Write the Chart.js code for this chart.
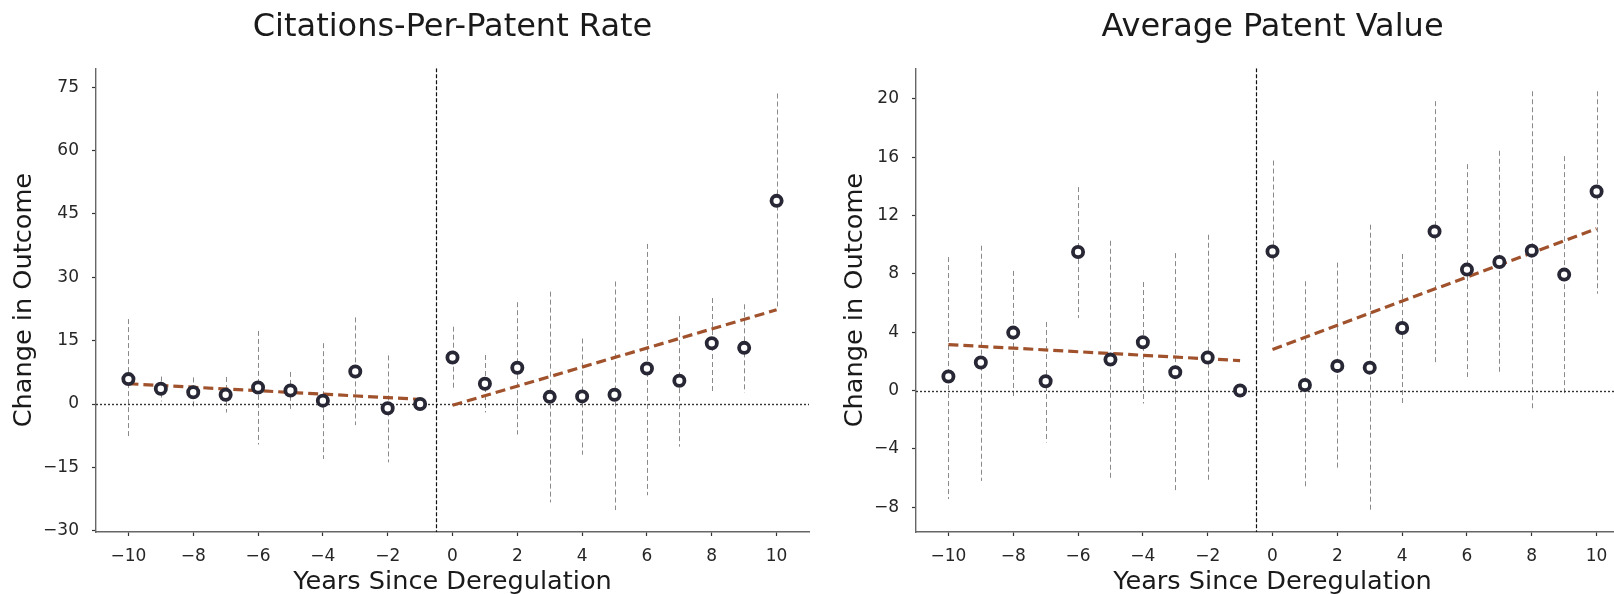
<!DOCTYPE html>
<html><head><meta charset="utf-8">
<script src="https://cdn.jsdelivr.net/npm/chart.js@4.4.1/dist/chart.umd.min.js"></script>
<style>
html,body{margin:0;padding:0;overflow:hidden;background:#fff;width:1614px;height:594px;}
#wrap{position:relative;width:1614px;height:594px;overflow:hidden;}
.panel{position:absolute;top:0;width:820px;height:594px;}
</style></head><body>
<div id="wrap">
<div class="panel" style="left:0"><canvas id="c1" width="820" height="594"></canvas></div>
<div class="panel" style="left:820px"><canvas id="c2" width="820" height="594"></canvas></div>
</div>
<script>
// ---- data ----
const years = [-10,-9,-8,-7,-6,-5,-4,-3,-2,-1,0,1,2,3,4,5,6,7,8,9,10];
const xTicks = [-10,-8,-6,-4,-2,0,2,4,6,8,10];

const citesTitle = 'Citations-Per-Patent Rate';
const citesCoef = [5.9,3.6,2.8,2.2,3.9,3.2,0.8,7.7,-1.0,0.0,11.0,4.8,8.6,1.7,1.8,2.2,8.4,5.5,14.4,13.3,48.1];
const citesLow  = [-8.3,0.6,-0.9,-2.0,-9.6,-1.3,-13.0,-5.0,-13.8,0.0,3.4,-2.0,-7.2,-23.3,-12.0,-25.1,-21.6,-10.1,2.9,2.7,22.7];
const citesHigh = [20.1,6.5,6.3,6.4,17.3,7.6,14.4,20.5,11.5,0.0,18.3,11.6,24.1,26.6,15.5,29.0,37.9,20.8,25.1,23.6,73.5];
const citesPreX = [-10,-1],  citesPreY = [4.8,1.1];
const citesPostX = [0,10],   citesPostY = [-0.3,22.3];
const citesYTicks = [-30,-15,0,15,30,45,60,75];
const citesYMin = -30.3, citesYMax = 79.5;

const valueTitle = 'Average Patent Value';
const valueCoef = [0.96,1.92,3.97,0.64,9.5,2.12,3.31,1.26,2.26,0.0,9.54,0.38,1.69,1.57,4.29,10.91,8.29,8.81,9.59,7.95,13.65];
const valueLow  = [-7.44,-6.2,-0.37,-3.56,4.97,-6.03,-0.89,-6.99,-6.2,0.0,3.26,-6.76,-5.46,-8.29,-1.0,1.94,0.93,1.12,-1.42,-0.25,6.64];
const valueHigh = [9.15,9.93,8.2,4.7,13.95,10.27,7.44,9.42,10.68,0.0,15.77,7.49,8.77,11.37,9.36,19.84,15.52,16.44,20.52,16.07,20.52];
const valuePreX = [-10,-1],  valuePreY = [3.15,2.05];
const valuePostX = [0,10],   valuePostY = [2.81,11.1];
const valueYTicks = [-8,-4,0,4,8,12,16,20];
const valueYMin = -9.7, valueYMax = 22.1;

const refY = 0;        // horizontal reference
const eventX = -0.5;   // deregulation marker
const xMin = -11, xMax = 11;
const xLabel = 'Years Since Deregulation';
const yLabel = 'Change in Outcome';

// ---- drawing ----
const FONT = "'DejaVu Sans', sans-serif";
const fmt = v => String(v).replace('-', '\u2212');

const refPlugin = {
  id: 'refs',
  beforeDatasetsDraw(chart, args, o) {
    const {ctx, chartArea: a, scales: {x, y}} = chart;
    ctx.save();
    ctx.beginPath(); ctx.rect(a.left, a.top, a.right - a.left, a.bottom - a.top); ctx.clip();
    // error bars
    ctx.lineWidth = 1; ctx.strokeStyle = '#8a8a8a'; ctx.setLineDash([5, 3]);
    o.years.forEach((yr, i) => {
      const lo = o.low[i], hi = o.high[i];
      if (lo === hi) return;
      const px = Math.round(x.getPixelForValue(yr)) + 0.5;
      ctx.beginPath();
      ctx.moveTo(px, y.getPixelForValue(hi));
      ctx.lineTo(px, y.getPixelForValue(lo));
      ctx.stroke();
    });
    // zero line
    const py = Math.round(y.getPixelForValue(o.refY)) + 0.5;
    ctx.strokeStyle = '#333'; ctx.lineWidth = 1.4; ctx.setLineDash([2, 2]);
    ctx.beginPath(); ctx.moveTo(a.left, py); ctx.lineTo(a.right, py); ctx.stroke();
    // event line
    const ex = Math.round(x.getPixelForValue(o.eventX)) + 0.5;
    ctx.strokeStyle = '#111'; ctx.lineWidth = 1.2; ctx.setLineDash([4, 2]);
    ctx.beginPath(); ctx.moveTo(ex, a.top); ctx.lineTo(ex, a.bottom); ctx.stroke();
    ctx.restore();
  }
};

function pts(xs, ys) { return xs.map((v, i) => ({x: v, y: ys[i]})); }

function makeChart(id, c) {
  const trendStyle = {type: 'line', borderColor: '#a0522d', borderWidth: 3.2, borderDash: [10, 5],
    pointRadius: 0, fill: false, order: 1, tension: 0};
  return new Chart(document.getElementById(id), {
    type: 'scatter',
    data: {datasets: [
      {data: pts(years, c.coef), pointRadius: 5.1, pointBorderWidth: 3.8, pointBackgroundColor: '#ffffff',
       pointBorderColor: '#272735', pointHoverRadius: 5.1, order: 0},
      Object.assign({data: pts(c.preX, c.preY)}, trendStyle),
      Object.assign({data: pts(c.postX, c.postY)}, trendStyle)
    ]},
    options: {
      responsive: false, animation: false, devicePixelRatio: 1, events: [],
      layout: {padding: {left: 0, right: 11, top: 0, bottom: 0}},
      plugins: {
        legend: {display: false}, tooltip: {enabled: false},
        title: {display: true, text: c.title, fullSize: false, color: '#1a1a1a',
          font: {family: FONT, size: 32, weight: 'normal', lineHeight: 1.2}, padding: {top: 8.5, bottom: 21.3}},
        refs: {years: years, low: c.low, high: c.high, refY: refY, eventX: eventX}
      },
      scales: {
        x: {type: 'linear', min: xMin, max: xMax,
          afterBuildTicks: s => { s.ticks = xTicks.map(v => ({value: v})); },
          afterFit: s => { s.height = 62; },
          grid: {drawOnChartArea: false, drawTicks: true, tickLength: 4, tickColor: '#333', tickWidth: 1.2},
          border: {color: '#666', width: 1.4},
          ticks: {font: {family: FONT, size: 17}, color: '#262626', padding: 10, maxRotation: 0, autoSkip: false,
            callback: v => fmt(v)},
          title: {display: true, text: xLabel, color: '#1a1a1a', font: {family: FONT, size: 25.6, lineHeight: 0.9}, padding: {top: 0, bottom: 0}}
        },
        y: {type: 'linear', min: c.yMin, max: c.yMax,
          afterBuildTicks: s => { s.ticks = c.yTicks.map(v => ({value: v})); },
          afterFit: s => { s.width = 96; },
          grid: {drawOnChartArea: false, drawTicks: true, tickLength: 4, tickColor: '#333', tickWidth: 1.2},
          border: {color: '#666', width: 1.4},
          ticks: {font: {family: FONT, size: 17}, color: '#262626', padding: 13, autoSkip: false,
            callback: v => fmt(v)},
          title: {display: true, text: yLabel, color: '#1a1a1a', font: {family: FONT, size: 25.6, lineHeight: 1.2}, padding: {top: c.yTitlePad, bottom: 0}}
        }
      }
    },
    plugins: [refPlugin]
  });
}

makeChart('c1', {title: citesTitle, coef: citesCoef, low: citesLow, high: citesHigh,
  preX: citesPreX, preY: citesPreY, postX: citesPostX, postY: citesPostY,
  yTicks: citesYTicks, yMin: citesYMin, yMax: citesYMax, yTitlePad: 9});
makeChart('c2', {title: valueTitle, coef: valueCoef, low: valueLow, high: valueHigh,
  preX: valuePreX, preY: valuePreY, postX: valuePostX, postY: valuePostY,
  yTicks: valueYTicks, yMin: valueYMin, yMax: valueYMax, yTitlePad: 19.5});
</script>
</body></html>
